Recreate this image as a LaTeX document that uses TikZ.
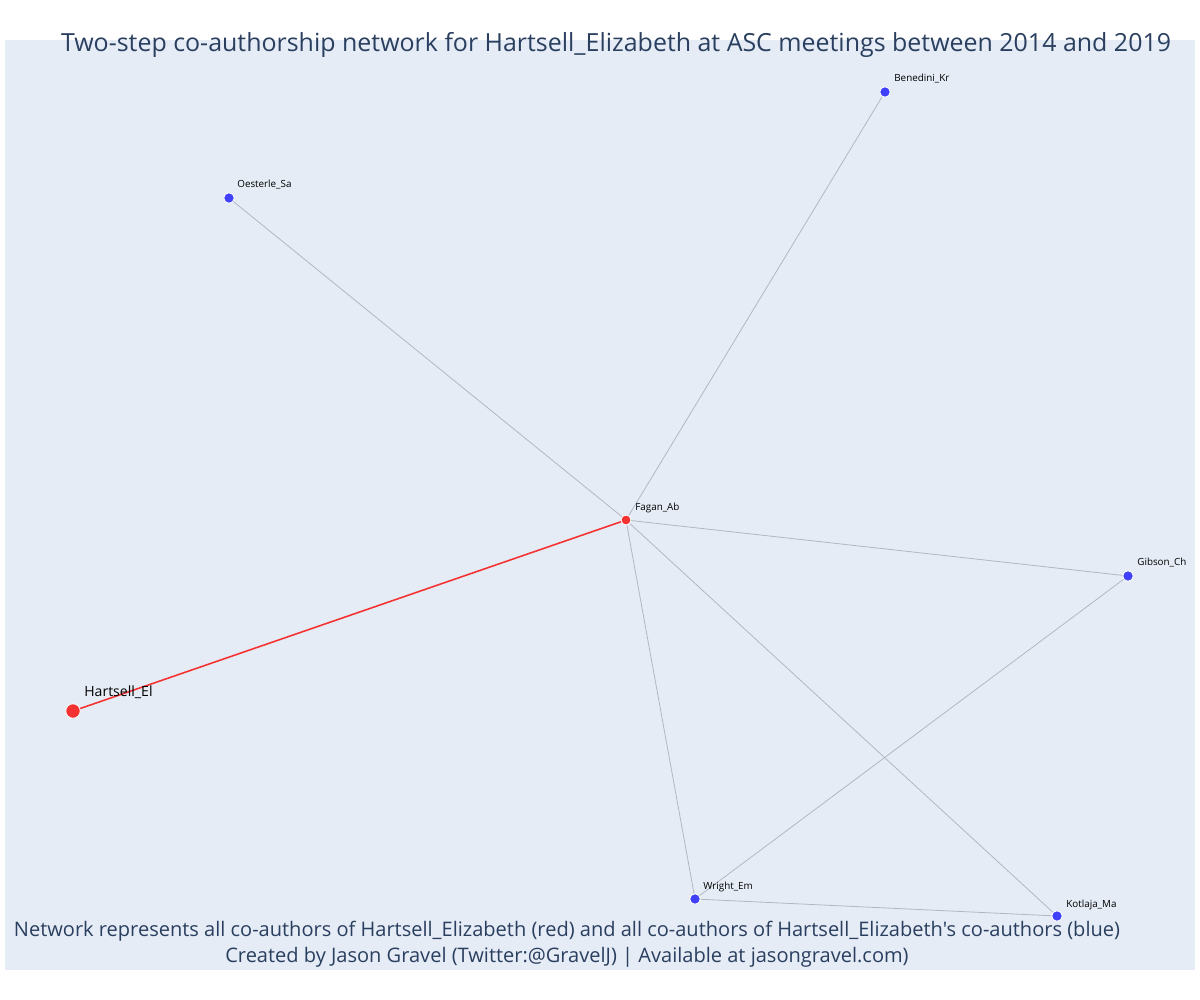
\documentclass[tikz,border=0pt]{standalone}
\usepackage{fontspec}
\setmainfont{Open Sans}[Ligatures=TeXOff]
\usetikzlibrary{calc}
\definecolor{plotbg}{HTML}{E5ECF6}
\definecolor{titlecol}{HTML}{2A3F5F}
\definecolor{authblue}{RGB}{64,64,250}
\definecolor{authred}{RGB}{245,50,50}
\definecolor{edgegray}{RGB}{178,182,196}

\begin{document}
\begin{tikzpicture}[x=0.02cm,y=-0.02cm,
 coauth/.style={circle,fill=authblue,draw=white,line width=0.5pt,inner sep=0pt,minimum size=0.21cm},
 redauth/.style={circle,fill=authred,draw=white,line width=0.5pt,inner sep=0pt,minimum size=0.2cm},
 lbl/.style={anchor=west,inner sep=0pt,font=\fontsize{5.6}{6}\selectfont},
 edge/.style={draw=edgegray,line width=0.45pt}]
 \useasboundingbox (0,0) rectangle (1200,1000);
 \fill[plotbg] (5,40) rectangle (1195,970);
 % edges first, nodes on top
 \coordinate (cH) at (73,711); \coordinate (cF) at (626,520); \coordinate (cB) at (885,92); \coordinate (cO) at (229,198);
 \coordinate (cG) at (1128,576); \coordinate (cW) at (695,899); \coordinate (cK) at (1057,916);
 \foreach \a/\b in {cF/cB,cF/cO,cF/cG,cF/cW,cF/cK,cG/cW,cW/cK} \draw[edge] (\a) -- (\b);
 \draw[authred,line width=0.9pt] (cH) -- (cF);
 \node[redauth,minimum size=0.29cm] (hartsell) at (cH) {};
 \node[redauth] (fagan) at (cF) {};
 \node[coauth] (benedini) at (cB) {};
 \node[coauth] (oesterle) at (cO) {};
 \node[coauth] (gibson) at (cG) {};
 \node[coauth] (wright) at (cW) {};
 \node[coauth] (kotlaja) at (cK) {};
 \node[lbl,font=\fontsize{8}{9}\selectfont] (hartsellLbl) at ($(cH)+(11,-19)$) {Hartsell\_El};
 \node[lbl] (faganLbl) at ($(cF)+(9,-12)$) {Fagan\_Ab};
 \node[lbl] (benediniLbl) at ($(cB)+(9,-13)$) {Benedini\_Kr};
 \node[lbl] (oesterleLbl) at ($(cO)+(8,-13)$) {Oesterle\_Sa};
 \node[lbl] (gibsonLbl) at ($(cG)+(9,-13)$) {Gibson\_Ch};
 \node[lbl] (wrightLbl) at ($(cW)+(8,-12)$) {Wright\_Em};
 \node[lbl] (kotlajaLbl) at ($(cK)+(9,-11)$) {Kotlaja\_Ma};
 % titles
 \node[text=titlecol,font=\fontsize{14.2}{16}\selectfont] (title) at (616,45) {Two-step co-authorship network for Hartsell\_Elizabeth at ASC meetings between 2014 and 2019};
 \node[text=titlecol,font=\fontsize{11.4}{13}\selectfont] (note) at (567,931) {Network represents all co-authors of Hartsell\_Elizabeth (red) and all co-authors of Hartsell\_Elizabeth's co-authors (blue)};
 \node[text=titlecol,font=\fontsize{11.4}{13}\selectfont] (credit) at (567,957) {Created by Jason Gravel (Twitter:@GravelJ) | Available at jasongravel.com)};
\end{tikzpicture}
\end{document}
